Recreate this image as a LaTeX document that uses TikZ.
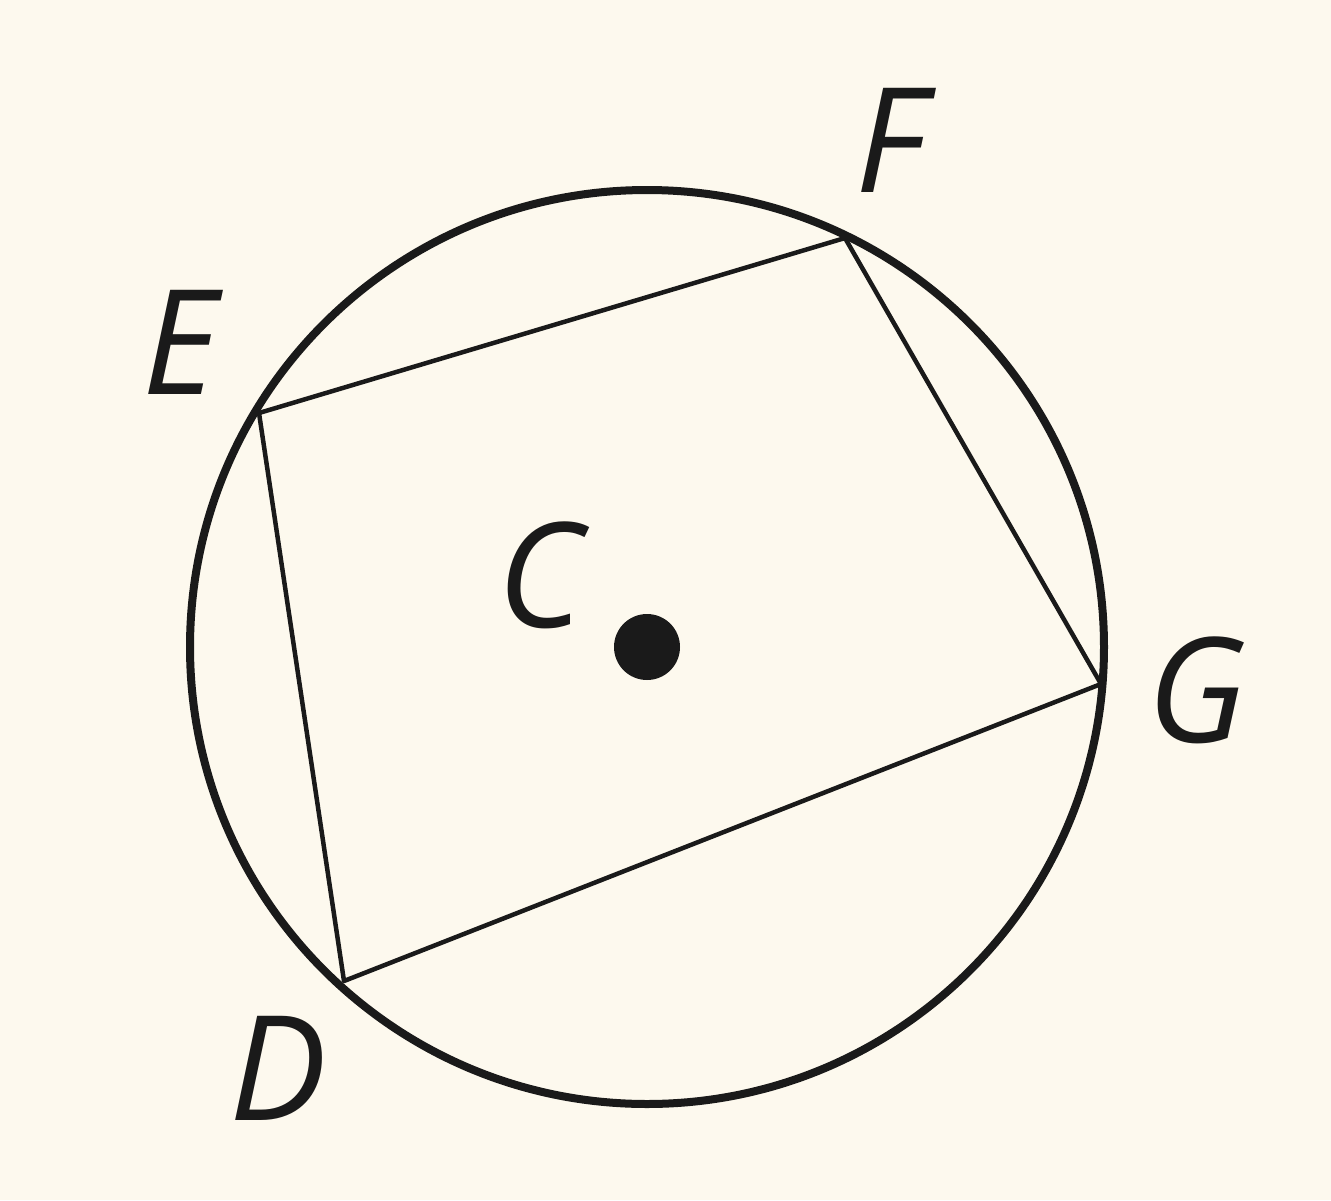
\documentclass[tikz,border=0pt]{standalone}
\usepackage{fontspec}
\setmainfont{Open Sans}
\definecolor{bgcol}{HTML}{FDF9EE}
\definecolor{ink}{HTML}{1A1A1A}
\begin{document}
\begin{tikzpicture}[x=1pt,y=-1pt,
  lbl/.style={inner sep=0pt,font=\fontsize{146}{150}\selectfont\itshape,text=ink},
  ring/.style={draw=ink,line width=8pt},
  side/.style={draw=ink,line width=4.5pt,line join=round}]
\fill[bgcol] (0,0) rectangle (1331,1200);
\useasboundingbox (0,0) rectangle (1331,1200);
\coordinate (C) at (647,647);
\draw[ring] (C) circle[radius=457];
\coordinate (E) at (259,413);
\coordinate (F) at (845,238);
\coordinate (G) at (1101,684);
\coordinate (D) at (344,981);
\draw[side] (E) -- (F) -- (G) -- (D) -- cycle;
\fill[ink] (C) circle[radius=33];
\node[lbl] (lC) at (540,575) {C};
\node[lbl] (lF) at (890,140) {F};
\node[lbl] (lE) at (180,342) {E};
\node[lbl] (lG) at (1197,690) {G};
\node[lbl] (lD) at (278,1068) {D};
\end{tikzpicture}
\end{document}
